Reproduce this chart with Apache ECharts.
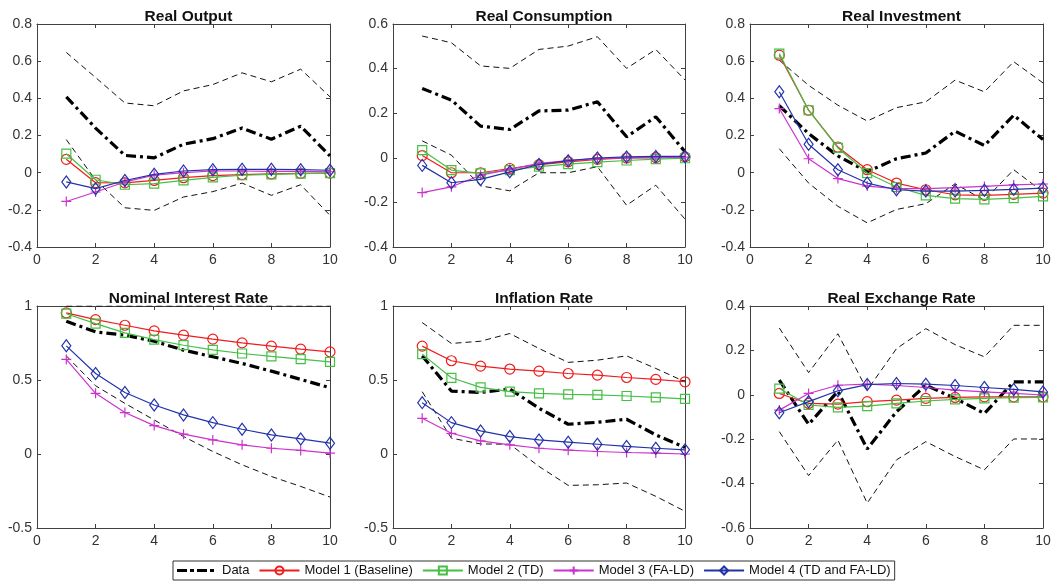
<!DOCTYPE html>
<html>
<head>
<meta charset="utf-8">
<script src="https://cdn.jsdelivr.net/npm/echarts@6.0.0/dist/echarts.min.js"></script>
<style>
html, body { margin: 0; padding: 0; background: #fff; }
#chart { width: 1059px; height: 584px; }
</style>
</head>
<body>
<div id="chart"></div>
<script>
// horizon (quarters)
var steps = [1, 2, 3, 4, 5, 6, 7, 8, 9, 10];

// Real Output
var outputData  = [0.408, 0.24, 0.093, 0.08, 0.153, 0.183, 0.24, 0.18, 0.25, 0.09];
var outputUpper = [0.647, 0.512, 0.375, 0.36, 0.44, 0.474, 0.537, 0.489, 0.557, 0.408];
var outputLower = [0.178, -0.04, -0.189, -0.203, -0.131, -0.102, -0.056, -0.122, -0.065, -0.23];
var outputM1 = [0.072, -0.054, -0.055, -0.042, -0.027, -0.016, -0.011, -0.007, -0.004, -0.002];
var outputM2 = [0.102, -0.038, -0.065, -0.059, -0.041, -0.025, -0.014, -0.009, -0.005, -0.003];
var outputM3 = [-0.155, -0.104, -0.05, -0.014, 0.0, 0.009, 0.009, 0.007, 0.007, 0.005];
var outputM4 = [-0.05, -0.086, -0.042, -0.009, 0.009, 0.016, 0.018, 0.018, 0.016, 0.013];

// Real Consumption
var consData  = [0.311, 0.259, 0.142, 0.127, 0.21, 0.214, 0.251, 0.094, 0.184, 0.027];
var consUpper = [0.546, 0.516, 0.412, 0.401, 0.486, 0.501, 0.543, 0.401, 0.486, 0.349];
var consLower = [0.076, 0.012, -0.126, -0.148, -0.067, -0.067, -0.04, -0.213, -0.123, -0.275];
var consM1 = [0.01, -0.067, -0.067, -0.048, -0.031, -0.018, -0.007, -0.001, 0.001, 0.004];
var consM2 = [0.034, -0.055, -0.07, -0.055, -0.04, -0.028, -0.019, -0.012, -0.006, -0.002];
var consM3 = [-0.156, -0.13, -0.078, -0.052, -0.025, -0.013, -0.004, 0.0, 0.001, 0.003];
var consM4 = [-0.034, -0.112, -0.097, -0.063, -0.03, -0.013, -0.001, 0.004, 0.006, 0.006];

// Real Investment
var invData  = [0.36, 0.21, 0.09, 0.005, 0.075, 0.106, 0.223, 0.146, 0.309, 0.178];
var invUpper = [0.605, 0.47, 0.363, 0.278, 0.35, 0.381, 0.498, 0.435, 0.597, 0.483];
var invLower = [0.129, -0.056, -0.181, -0.27, -0.198, -0.167, -0.06, -0.149, 0.016, -0.104];
var invM1 = [0.632, 0.336, 0.138, 0.016, -0.056, -0.092, -0.119, -0.122, -0.117, -0.11];
var invM2 = [0.641, 0.336, 0.133, -0.002, -0.077, -0.122, -0.14, -0.144, -0.137, -0.128];
var invM3 = [0.345, 0.075, -0.032, -0.072, -0.086, -0.086, -0.081, -0.074, -0.066, -0.061];
var invM4 = [0.435, 0.153, 0.016, -0.056, -0.092, -0.099, -0.099, -0.095, -0.09, -0.083];

// Nominal Interest Rate
var rateData  = [0.897, 0.825, 0.803, 0.762, 0.702, 0.657, 0.612, 0.56, 0.504, 0.448];
var rateUpper = [1.0, 1.0, 1.0, 1.0, 1.0, 1.0, 1.0, 1.0, 1.0, 1.0];
var rateLower = [0.663, 0.461, 0.342, 0.23, 0.118, 0.017, -0.073, -0.152, -0.219, -0.291];
var rateM1 = [0.953, 0.908, 0.87, 0.832, 0.803, 0.776, 0.751, 0.729, 0.708, 0.69];
var rateM2 = [0.948, 0.881, 0.818, 0.773, 0.735, 0.704, 0.679, 0.659, 0.641, 0.623];
var rateM3 = [0.639, 0.41, 0.28, 0.192, 0.134, 0.095, 0.062, 0.039, 0.024, 0.006];
var rateM4 = [0.731, 0.544, 0.416, 0.331, 0.264, 0.212, 0.167, 0.129, 0.102, 0.073];

// Inflation Rate
var inflData  = [0.663, 0.425, 0.416, 0.439, 0.309, 0.201, 0.214, 0.235, 0.129, 0.044];
var inflUpper = [0.888, 0.747, 0.762, 0.814, 0.713, 0.619, 0.634, 0.663, 0.578, 0.488];
var inflLower = [0.421, 0.107, 0.068, 0.066, -0.084, -0.212, -0.208, -0.196, -0.286, -0.387];
var inflM1 = [0.729, 0.63, 0.594, 0.574, 0.56, 0.544, 0.533, 0.517, 0.504, 0.488];
var inflM2 = [0.675, 0.515, 0.45, 0.421, 0.41, 0.403, 0.399, 0.392, 0.383, 0.372];
var inflM3 = [0.241, 0.14, 0.089, 0.062, 0.039, 0.026, 0.017, 0.01, 0.006, 0.0];
var inflM4 = [0.347, 0.212, 0.156, 0.118, 0.095, 0.08, 0.066, 0.051, 0.039, 0.028];

// Real Exchange Rate
var rerData  = [0.066, -0.133, 0.016, -0.244, -0.076, 0.043, -0.016, -0.084, 0.058, 0.058];
var rerUpper = [0.301, 0.1, 0.275, 0.021, 0.208, 0.298, 0.226, 0.171, 0.313, 0.313];
var rerLower = [-0.166, -0.364, -0.204, -0.488, -0.293, -0.211, -0.278, -0.338, -0.199, -0.199];
var rerM1 = [0.006, -0.039, -0.042, -0.031, -0.024, -0.016, -0.012, -0.009, -0.009, -0.009];
var rerM2 = [0.028, -0.046, -0.057, -0.051, -0.039, -0.028, -0.021, -0.016, -0.013, -0.012];
var rerM3 = [-0.069, 0.006, 0.043, 0.048, 0.042, 0.033, 0.021, 0.013, 0.006, -0.001];
var rerM4 = [-0.081, -0.031, 0.018, 0.046, 0.051, 0.048, 0.042, 0.033, 0.024, 0.013];

var modelNames = ['Model 1 (Baseline)', 'Model 2 (TD)', 'Model 3 (FA-LD)', 'Model 4 (TD and FA-LD)'];

var panels = [
    {title: 'Real Output', d: outputData, up: outputUpper, lo: outputLower, m: [outputM1, outputM2, outputM3, outputM4], min: -0.4, max: 0.8, step: 0.2},
    {title: 'Real Consumption', d: consData, up: consUpper, lo: consLower, m: [consM1, consM2, consM3, consM4], min: -0.4, max: 0.6, step: 0.2},
    {title: 'Real Investment', d: invData, up: invUpper, lo: invLower, m: [invM1, invM2, invM3, invM4], min: -0.4, max: 0.8, step: 0.2},
    {title: 'Nominal Interest Rate', d: rateData, up: rateUpper, lo: rateLower, m: [rateM1, rateM2, rateM3, rateM4], min: -0.5, max: 1, step: 0.5},
    {title: 'Inflation Rate', d: inflData, up: inflUpper, lo: inflLower, m: [inflM1, inflM2, inflM3, inflM4], min: -0.5, max: 1, step: 0.5},
    {title: 'Real Exchange Rate', d: rerData, up: rerUpper, lo: rerLower, m: [rerM1, rerM2, rerM3, rerM4], min: -0.6, max: 0.4, step: 0.2}
];

var lefts = [37, 393, 750];
var widths = [293, 292, 293];
var tops = [24, 306];
var heights = [223, 222];

var axisColor = '#404040';
var font = 'Liberation Sans, Arial, Helvetica, sans-serif';

// markers are open (transparent fill) like the original
var modelStyles = [
    {color: '#f01c1c', symbol: 'circle', symbolSize: 10},
    {color: '#44c044', symbol: 'rect', symbolSize: 9},
    {color: '#cc33cc', symbol: 'path://M5,0L5,10M0,5L10,5', symbolSize: 10},
    {color: '#2233aa', symbol: 'diamond', symbolSize: [9, 12]}
];

// dash-dot bar icon for the Data entry of the legend
var dataIcon = 'path://M0,0M40,10M0,3.5h10v3h-10zM13,3.5h4v3h-4zM20,3.5h10v3h-10zM33,3.5h4v3h-4z';

function fmt(v) {
    var s = parseFloat(v.toFixed(2));
    return s === 0 ? '0' : String(s);
}

function pts(arr) {
    return steps.map(function (s, i) { return [s, arr[i]]; });
}

function initChart() {
    var chart = echarts.init(document.getElementById('chart'), null, {renderer: 'canvas'});
    var grids = [], xAxes = [], yAxes = [], titles = [], series = [];

    panels.forEach(function (p, i) {
        var col = i % 3, row = Math.floor(i / 3);
        grids.push({left: lefts[col], top: tops[row], width: widths[col], height: heights[row]});
        titles.push({
            text: p.title,
            left: lefts[col] + widths[col] / 2,
            top: tops[row] - 20,
            textAlign: 'center',
            textStyle: {fontFamily: font, fontSize: 15.5, fontWeight: 'bold', color: '#111'}
        });
    });

    // bottom / left axes with labels
    panels.forEach(function (p, i) {
        xAxes.push({
            type: 'value', gridIndex: i, min: 0, max: 10, interval: 2,
            axisLine: {onZero: false, lineStyle: {color: axisColor, width: 1}},
            axisTick: {inside: true, length: 4, lineStyle: {color: axisColor}},
            axisLabel: {color: '#333', fontFamily: font, fontSize: 14, margin: 6},
            splitLine: {show: false}
        });
        yAxes.push({
            type: 'value', gridIndex: i, min: p.min, max: p.max, interval: p.step,
            axisLine: {show: true, onZero: false, lineStyle: {color: axisColor, width: 1}},
            axisTick: {show: true, inside: true, length: 4, lineStyle: {color: axisColor}},
            axisLabel: {color: '#333', fontFamily: font, fontSize: 14, margin: 5, formatter: fmt},
            splitLine: {show: false}
        });
    });
    // top / right axes making the box
    panels.forEach(function (p, i) {
        xAxes.push({
            type: 'value', gridIndex: i, position: 'top', min: 0, max: 10, interval: 2,
            axisLine: {onZero: false, lineStyle: {color: axisColor, width: 1}},
            axisTick: {inside: true, length: 4, lineStyle: {color: axisColor}},
            axisLabel: {show: false}, splitLine: {show: false}
        });
        yAxes.push({
            type: 'value', gridIndex: i, position: 'right', min: p.min, max: p.max, interval: p.step,
            axisLine: {show: true, onZero: false, lineStyle: {color: axisColor, width: 1}},
            axisTick: {show: true, inside: true, length: 4, lineStyle: {color: axisColor}},
            axisLabel: {show: false}, splitLine: {show: false}
        });
    });

    panels.forEach(function (p, i) {
        [p.up, p.lo].forEach(function (band, k) {
            series.push({
                type: 'line', name: 'band' + k, xAxisIndex: i, yAxisIndex: i,
                data: pts(band), showSymbol: false, symbol: 'none',
                lineStyle: {color: '#111', width: 1, type: [6, 4]},
                z: 2, animation: false, silent: true
            });
        });
        series.push({
            type: 'line', name: 'Data', xAxisIndex: i, yAxisIndex: i,
            data: pts(p.d), symbol: 'none', showSymbol: false,
            itemStyle: {color: '#000'},
            lineStyle: {color: '#000', width: 3.2, type: [10, 4, 3, 4]},
            z: 3, animation: false, silent: true
        });
        p.m.forEach(function (arr, k) {
            var st = modelStyles[k];
            series.push({
                type: 'line', name: modelNames[k], xAxisIndex: i, yAxisIndex: i,
                data: pts(arr), symbol: st.symbol, symbolSize: st.symbolSize, showSymbol: true,
                itemStyle: {color: k === 2 ? st.color : 'rgba(255,255,255,0)', borderColor: st.color, borderWidth: 1.2},
                lineStyle: {color: st.color, width: 1.2},
                z: 4 + k, animation: false, silent: true
            });
        });
    });

    var legendData = [{name: 'Data', icon: dataIcon, itemStyle: {color: '#000'}}].concat(modelNames.map(function (n) { return {name: n}; }));

    var option = {
        backgroundColor: '#fff',
        animation: false,
        title: titles,
        grid: grids,
        xAxis: xAxes,
        yAxis: yAxes,
        legend: {
            data: legendData,
            left: 173, top: 561,
            itemWidth: 40, itemHeight: 10, itemGap: 9,
            padding: [3, 4],
            borderColor: '#333', borderWidth: 1, backgroundColor: '#fff',
            textStyle: {fontFamily: font, fontSize: 13, color: '#111'}
        },
        series: series
    };
    chart.setOption(option);
}
initChart();
</script>
</body>
</html>
